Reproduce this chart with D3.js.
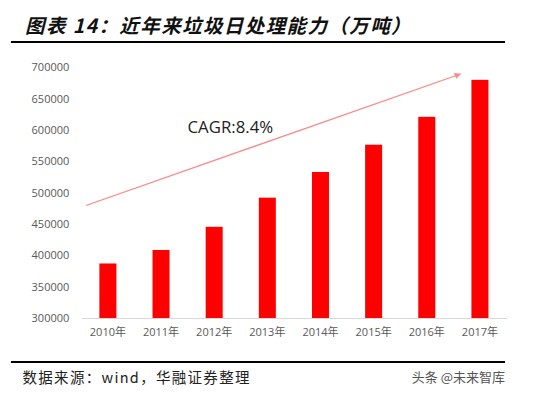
<!DOCTYPE html>
<html>
<head>
<meta charset="utf-8">
<script src="https://cdn.jsdelivr.net/npm/d3@7"></script>
<style>
  body { margin: 0; background: #fff; }
  svg { display: block; }
  .tick text { fill: #595959; font-family: "Open Sans", "Noto Sans CJK SC", sans-serif; font-size: 11px; }
</style>
</head>
<body>
<div id="chart"></div>
<script>
// chart data
const years = ['2010年', '2011年', '2012年', '2013年', '2014年', '2015年', '2016年', '2017年']
const capacity = [387000, 408500, 445500, 492000, 533000, 576500, 621000, 680000]
const yTicks = [300000, 350000, 400000, 450000, 500000, 550000, 600000, 650000, 700000]

const width = 544
const height = 395
const plot = { left: 81.3, right: 506.5, top: 67.3, bottom: 318 }

const svg = d3.select('#chart')
  .append('svg')
  .attr('width', width)
  .attr('height', height)

// title and rule
svg.append('text')
  .attr('x', 25)
  .attr('y', 33)
  .attr('font-family', '"Noto Sans CJK SC", sans-serif')
  .attr('font-size', 19.5)
  .attr('font-weight', 'bold')
  .attr('font-style', 'italic')
  .attr('letter-spacing', 1.4)
  .attr('fill', '#111')
  .text('图表 14：近年来垃圾日处理能力（万吨）')

svg.append('line')
  .attr('x1', 11).attr('x2', 505)
  .attr('y1', 42).attr('y2', 42)
  .attr('stroke', '#000')
  .attr('stroke-width', 2)

const x = d3.scaleBand()
  .domain(years)
  .range([plot.left, plot.right])
  .paddingInner(0.68)
  .paddingOuter(0.34)

const y = d3.scaleLinear()
  .domain([300000, 700000])
  .range([plot.bottom, plot.top])

// y axis, labels only
const yAxis = svg.append('g')
  .attr('class', 'y axis')
  .attr('transform', 'translate(' + (plot.left - 12) + ',0)')
  .call(d3.axisLeft(y).tickValues(yTicks).tickSize(0).tickPadding(0).tickFormat(d3.format('d')))
yAxis.select('.domain').remove()

// x axis
const xAxis = svg.append('g')
  .attr('class', 'x axis')
  .attr('transform', 'translate(0,' + plot.bottom + ')')
  .call(d3.axisBottom(x).tickSize(0).tickPadding(10))
xAxis.select('.domain').attr('stroke', '#d9d9d9')

// bars
svg.append('g')
  .selectAll('rect')
  .data(capacity)
  .join('rect')
  .attr('x', (d, i) => x(years[i]))
  .attr('width', x.bandwidth())
  .attr('y', d => y(d))
  .attr('height', d => y(300000) - y(d))
  .attr('fill', '#ff0000')

// CAGR arrow
svg.append('defs').append('marker')
  .attr('id', 'arrow')
  .attr('viewBox', '0 0 10 10')
  .attr('refX', 9).attr('refY', 5)
  .attr('markerWidth', 5).attr('markerHeight', 5)
  .attr('orient', 'auto')
  .append('path')
  .attr('d', 'M0,0 L10,5 L0,10 z')
  .attr('fill', '#f98a8a')

svg.append('line')
  .attr('x1', 86).attr('y1', 205.5)
  .attr('x2', 460.5).attr('y2', 74)
  .attr('stroke', '#f98a8a')
  .attr('stroke-width', 1.3)
  .attr('marker-end', 'url(#arrow)')

svg.append('text')
  .attr('x', 187.5)
  .attr('y', 133)
  .attr('font-family', '"Open Sans", sans-serif')
  .attr('font-size', 16.8)
  .attr('fill', '#222')
  .text('CAGR:8.4%')

// footer
svg.append('line')
  .attr('x1', 11).attr('x2', 505)
  .attr('y1', 362).attr('y2', 362)
  .attr('stroke', '#000')
  .attr('stroke-width', 2)

svg.append('text')
  .attr('x', 22.5)
  .attr('y', 383)
  .attr('font-family', '"Noto Sans CJK SC", sans-serif')
  .attr('font-size', 14.5)
  .attr('letter-spacing', 1.3)
  .attr('fill', '#222')
  .text('数据来源：wind，华融证券整理')

svg.append('text')
  .attr('x', 505)
  .attr('y', 382)
  .attr('text-anchor', 'end')
  .attr('font-family', '"Noto Sans CJK SC", sans-serif')
  .attr('font-size', 13)
  .attr('fill', '#555')
  .text('头条 @未来智库')
</script>
</body>
</html>
